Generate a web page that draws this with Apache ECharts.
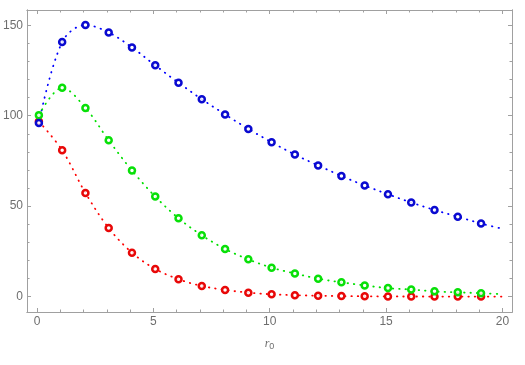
<!DOCTYPE html>
<html><head><meta charset="utf-8">
<script src="https://cdn.jsdelivr.net/npm/echarts@6/dist/echarts.min.js"></script>
<style>html,body{margin:0;padding:0;background:#fff}#c{width:525px;height:365px}</style>
</head><body><div id="c"></div>
<script>
// marker positions (r0)
const xMarkers = [0.08, 1.08, 2.08, 3.08, 4.08, 5.08, 6.08, 7.08, 8.08, 9.08, 10.08, 11.08, 12.08, 13.08, 14.08, 15.08, 16.08, 17.08, 18.08, 19.08];
const blueValues  = [96.0, 140.7, 150.1, 146.0, 137.7, 127.8, 118.2, 109.1, 100.7, 92.7, 85.3, 78.5, 72.5, 66.7, 61.4, 56.6, 52.0, 47.9, 44.2, 40.4];
const greenValues = [100.3, 115.4, 104.3, 86.4, 69.7, 55.3, 43.3, 33.9, 26.3, 20.6, 16.0, 12.8, 9.9, 7.9, 6.2, 4.7, 3.9, 2.9, 2.4, 1.9];
const redValues   = [96.8, 80.9, 57.3, 37.9, 24.3, 15.3, 9.6, 5.9, 3.7, 2.2, 1.3, 0.8, 0.5, 0.3, 0.2, 0.1, 0.07, 0.04, 0.02, 0.01];
// where the dotted curves end on the right
const xLineEnd = 20;
const blueEnd = 37.5, greenEnd = 1.4, redEnd = 0.01;
// ticks
const xMajorTicks = [0, 5, 10, 15, 20];
const xMinorTicks = [0,1,2,3,4,5,6,7,8,9,10,11,12,13,14,15,16,17,18,19,20];
const yMajorTicks = [0, 50, 100, 150];
const yMinorTicks = [0,10,20,30,40,50,60,70,80,90,100,110,120,130,140,150];

const X_MIN = -0.43, X_MAX = 20.41, Y_MIN = -8.5, Y_MAX = 158.4;
const frameColor = '#a0a0a0';
const labelColor = '#6e6e6e';
const font = 'Liberation Sans';

function pairs(xs, ys) { return xs.map((x, i) => [x, ys[i]]); }

function xAxisDef(position, ticks, len, withLabels) {
  return {
    type: 'value', min: X_MIN, max: X_MAX, position: position,
    splitLine: { show: false },
    axisLine: { show: true, onZero: false, lineStyle: { color: frameColor, width: 1 } },
    axisTick: { show: true, inside: true, length: len, customValues: ticks, lineStyle: { color: frameColor, width: 1 } },
    axisLabel: withLabels ? { show: true, customValues: ticks, color: labelColor, fontSize: 12, fontFamily: font, margin: 4 } : { show: false },
    name: withLabels ? '{i|r}{s|0}' : '',
    nameLocation: 'middle', nameGap: 24,
    nameTextStyle: { rich: {
      i: { fontStyle: 'italic', fontSize: 12, color: labelColor, fontFamily: 'Liberation Serif' },
      s: { fontSize: 9, color: labelColor, fontFamily: font, verticalAlign: 'bottom', padding: [6, 0, 0, 0] }
    } }
  };
}
function yAxisDef(position, ticks, len, withLabels) {
  return {
    type: 'value', min: Y_MIN, max: Y_MAX, position: position,
    splitLine: { show: false },
    axisLine: { show: true, onZero: false, lineStyle: { color: frameColor, width: 1 } },
    axisTick: { show: true, inside: true, length: len, customValues: ticks, lineStyle: { color: frameColor, width: 1 } },
    axisLabel: withLabels ? { show: true, customValues: ticks, color: labelColor, fontSize: 12, fontFamily: font, margin: 4 } : { show: false }
  };
}

const colors = { blue: '#0000ff', green: '#00e000', red: '#ff0000' };
const markerColors = { blue: '#0a0ad0', green: '#08e008', red: '#e80808' };

function lineSeries(name, ys, endVal) {
  return {
    type: 'line', name: name + 'Line', xAxisIndex: 0, yAxisIndex: 0,
    data: pairs(xMarkers, ys).concat([[xLineEnd, endVal]]),
    smooth: 0.35, showSymbol: false, silent: true, z: 2,
    lineStyle: { color: colors[name], width: 1.8, type: [0.5, 6], cap: 'round' }
  };
}
function markerSeries(name, ys) {
  return {
    type: 'scatter', name: name, xAxisIndex: 0, yAxisIndex: 0,
    data: pairs(xMarkers, ys),
    symbol: 'circle', symbolSize: 6, z: 3,
    itemStyle: { color: 'rgba(255,255,255,0.85)', borderColor: markerColors[name], borderWidth: 2.5, opacity: 1 }
  };
}

const chart = echarts.init(document.getElementById('c'));
chart.setOption({
  backgroundColor: '#fff',
  animation: false,
  grid: { left: 27, right: 13, top: 10, bottom: 53, containLabel: false },
  xAxis: [
    xAxisDef('bottom', xMajorTicks, 4, true),
    xAxisDef('bottom', xMinorTicks, 2.5, false),
    xAxisDef('top', xMajorTicks, 4, false),
    xAxisDef('top', xMinorTicks, 2.5, false)
  ],
  yAxis: [
    yAxisDef('left', yMajorTicks, 4, true),
    yAxisDef('left', yMinorTicks, 2.5, false),
    yAxisDef('right', yMajorTicks, 4, false),
    yAxisDef('right', yMinorTicks, 2.5, false)
  ],
  series: [
    lineSeries('blue', blueValues, blueEnd),
    lineSeries('green', greenValues, greenEnd),
    lineSeries('red', redValues, redEnd),
    markerSeries('red', redValues),
    markerSeries('green', greenValues),
    markerSeries('blue', blueValues)
  ]
});
</script>
</body></html>
